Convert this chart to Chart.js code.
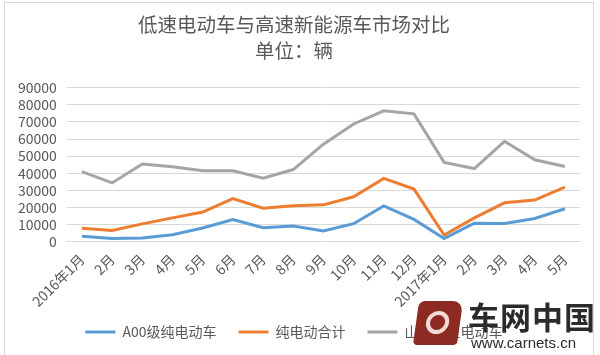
<!DOCTYPE html>
<html><head><meta charset="utf-8">
<script src="https://cdn.jsdelivr.net/npm/chart.js@4/dist/chart.umd.min.js"></script>
<style>
html,body{margin:0;padding:0;background:#fff;}
#wrap{position:relative;width:600px;height:355px;overflow:hidden;}
#frame{position:absolute;left:4px;top:2px;width:590px;height:360px;border:1px solid #d9d9d9;box-sizing:border-box;pointer-events:none;}
#c{position:absolute;left:0;top:0;}
#logo{position:absolute;left:416px;top:301px;width:44px;height:44px;background:#8e2a24;border-radius:6px 10px 4px 4px;transform:skewX(-8deg);}
#logo div{position:absolute;left:10px;top:10px;width:23px;height:23px;border:4px solid #f1d9d6;border-radius:50%;box-sizing:border-box;}
#wm1{position:absolute;left:468px;top:298px;font:bold 31px "Noto Sans CJK SC";color:#2b2b2b;letter-spacing:1px;line-height:36px;}
#wm2{position:absolute;left:471px;top:334px;font:15px "Liberation Sans";color:#2b2b2b;line-height:18px;}
</style></head>
<body><div id="wrap"><canvas id="c" width="600" height="355"></canvas><div id="frame"></div>
<div id="logo"><div></div></div><div id="wm1">车网中国</div><div id="wm2">www.carnets.cn</div></div>
<script>
const categories = ['2016年1月','2月','3月','4月','5月','6月','7月','8月','9月','10月','11月','12月','2017年1月','2月','3月','4月','5月'];
const seriesNames = ['A00级纯电动车','纯电动合计','山东小型电动车'];
const a00 = [3200,1900,2300,4200,8100,13000,8200,9200,6300,10600,21000,13100,2000,10900,10700,13600,19300];
const bevTotal = [7900,6600,10500,14000,17400,25200,19600,21000,21600,26300,37000,30800,4000,14000,22800,24400,32000];
const shandong = [41000,34400,45400,43800,41500,41500,37200,42200,57000,68800,76500,74700,46400,42800,58700,47900,44000];
const yMax = 90000, yStep = 10000;
const titleLines = ['低速电动车与高速新能源车市场对比','单位：辆'];

const colors = ['#5B9BD5','#ED7D31','#A5A5A5'];
const font = '"Noto Sans CJK SC", "Noto Sans", sans-serif';
const mk = (label, data, c) => ({label, data, borderColor:c, backgroundColor:c, borderWidth:3, pointRadius:0, tension:0, fill:false, pointStyle:'line'});
const noLabelClip = {id:'noLabelClip', beforeDraw(chart){ const x = chart.scales.x; if (x) x._computeLabelArea = () => undefined; }};
new Chart(document.getElementById('c'), {
  type:'line',
  data:{labels:categories, datasets:[mk(seriesNames[0],a00,colors[0]),mk(seriesNames[1],bevTotal,colors[1]),mk(seriesNames[2],shandong,colors[2])]},
  plugins:[noLabelClip],
  options:{
    responsive:false, animation:false,
    layout:{padding:{left:8,right:20,top:9,bottom:6}},
    plugins:{
      title:{display:true,text:titleLines,color:'#595959',font:{family:font,size:19.5,weight:'normal',lineHeight:1.35},padding:{top:2,bottom:24}},
      legend:{position:'bottom',labels:{color:'#595959',font:{family:font,size:14},usePointStyle:true,pointStyleWidth:30,padding:22}},
      tooltip:{enabled:false}
    },
    scales:{
      x:{offset:true,grid:{display:false,drawTicks:false},border:{color:'#d9d9d9'},
         afterFit:(s)=>{s.height-=16;},
         ticks:{color:'#595959',font:{family:font,size:14},minRotation:45,maxRotation:45,padding:9,autoSkip:false}},
      y:{min:0,max:yMax,
         grid:{color:'#d9d9d9',drawTicks:false},border:{display:false},
         ticks:{stepSize:yStep,autoSkip:false,color:'#595959',font:{family:font,size:14},padding:10,callback:v=>String(v)}}
    }
  }
});
</script></body></html>
